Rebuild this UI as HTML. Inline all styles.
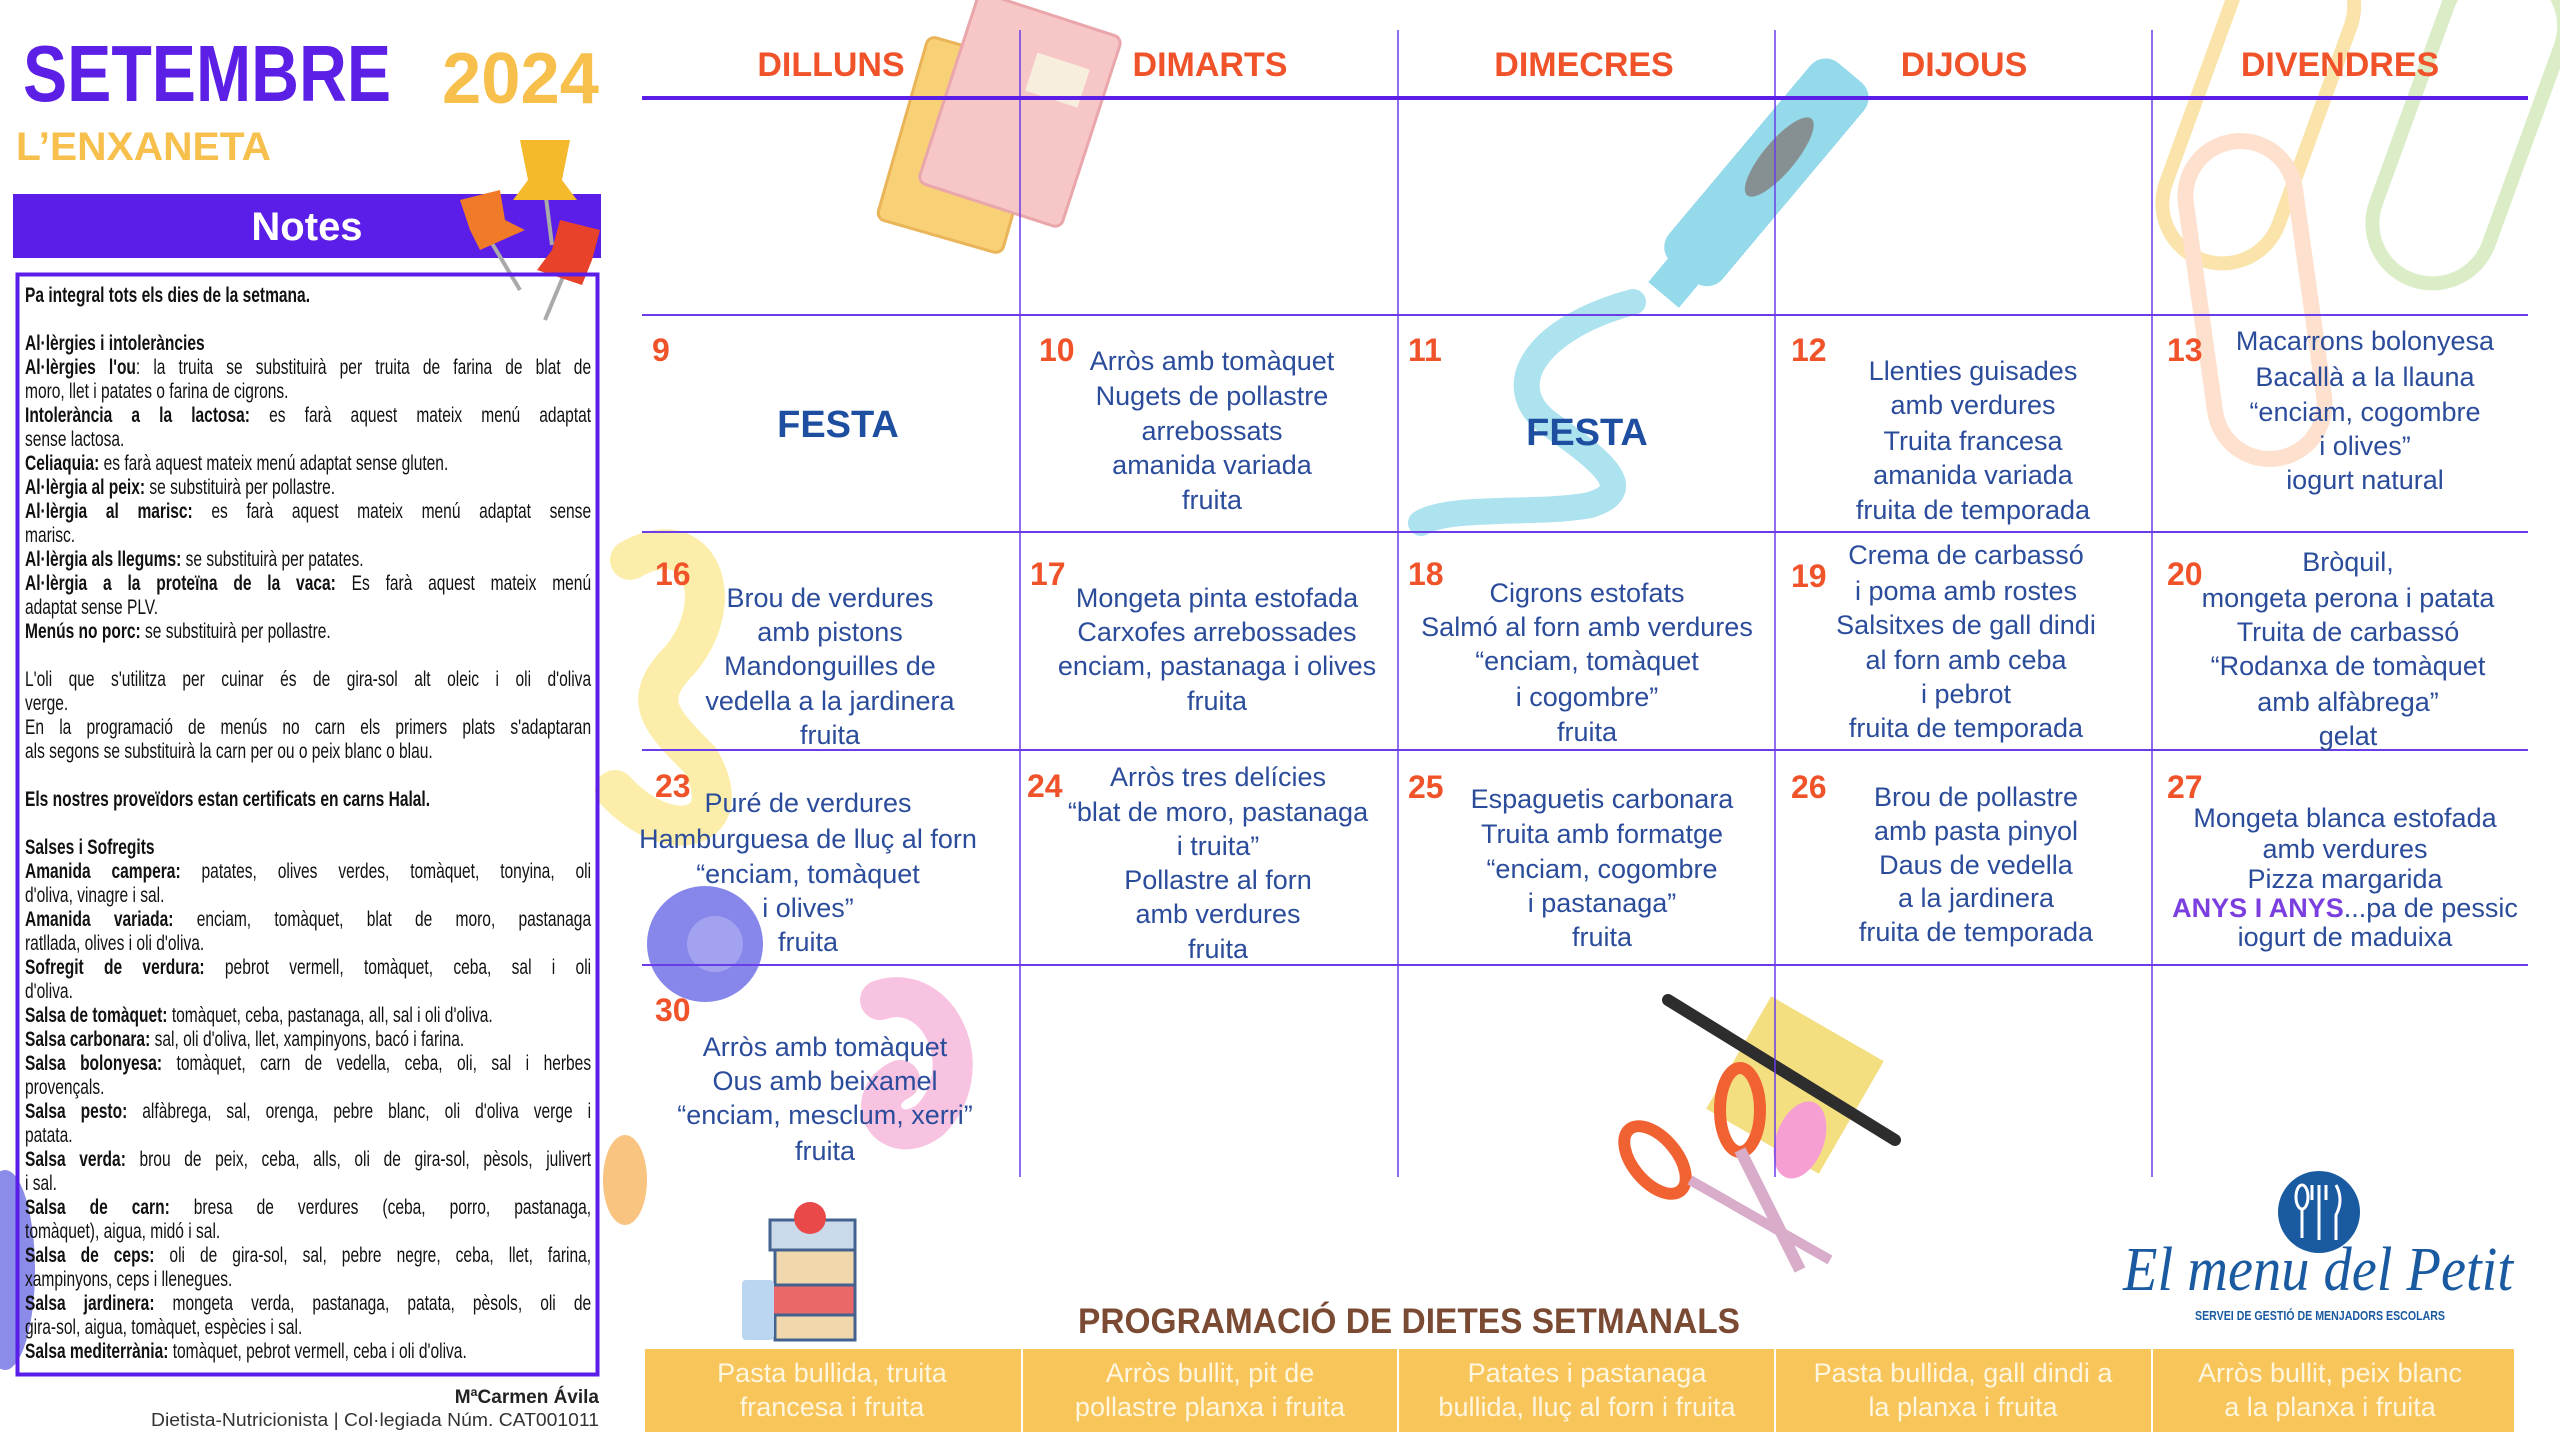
<!DOCTYPE html>
<html><head><meta charset="utf-8"><style>
html,body{margin:0;padding:0;background:#fff;}
body{width:2560px;height:1440px;position:relative;overflow:hidden;font-family:"Liberation Sans",sans-serif;}
svg{position:absolute;left:0;top:0;}
#notes{position:absolute;left:25px;top:284px;width:765px;transform:scaleX(0.74);transform-origin:0 0;font-size:21px;line-height:24px;color:#111;}
#notes div{white-space:nowrap;height:24px;}
#notes .j{text-align:justify;text-align-last:justify;}
</style></head><body>
<svg width="2560" height="1440" viewBox="0 0 2560 1440" font-family="Liberation Sans, sans-serif">
<g opacity="0.95">
 <rect x="2200" y="-60" width="120" height="330" rx="60" fill="none" stroke="#fbe3a8" stroke-width="14" transform="rotate(20 2260 100)"/>
 <rect x="2410" y="-40" width="120" height="330" rx="60" fill="none" stroke="#d9ecc5" stroke-width="14" transform="rotate(20 2470 120)"/>
 <rect x="2200" y="140" width="110" height="320" rx="55" fill="none" stroke="#fde0cc" stroke-width="16" transform="rotate(-8 2255 300)"/>
 <rect x="900" y="50" width="130" height="190" rx="8" fill="#f8cf70" stroke="#e9b050" stroke-width="3" transform="rotate(16 965 145)"/>
 <rect x="945" y="10" width="150" height="200" rx="8" fill="#f7c4c6" stroke="#e8a2a7" stroke-width="3" transform="rotate(18 1020 110)"/>
 <rect x="1030" y="60" width="55" height="40" fill="#f8eedc" transform="rotate(18 1057 80)"/>
 <path d="M1633 302 C1530 330 1500 390 1551 425 C1600 460 1640 490 1590 505 C1540 515 1450 505 1421 523" fill="none" stroke="#a9e1ef" stroke-width="26" stroke-linecap="round"/>
 <g transform="rotate(40 1760 180)">
  <rect x="1725" y="40" width="70" height="260" rx="20" fill="#8fd9ea"/>
  <ellipse cx="1760" cy="150" rx="16" ry="50" fill="#808a8c"/>
  <rect x="1740" y="290" width="40" height="40" fill="#8fd9ea"/>
 </g>
 <path d="M630 560 C700 520 730 600 680 660 C640 700 660 720 700 760 C740 830 670 850 615 790" fill="none" stroke="#fbe88f" stroke-width="40" stroke-linecap="round" opacity="0.8"/>
 <circle cx="705" cy="944" r="58" fill="#8080ea"/>
 <circle cx="715" cy="944" r="28" fill="#9d9df0"/>
 <path d="M880 1000 C940 980 980 1070 930 1120 C890 1150 860 1100 900 1080" fill="none" stroke="#f8bfe0" stroke-width="40" stroke-linecap="round"/>
 <ellipse cx="625" cy="1180" rx="22" ry="45" fill="#f9c07a"/>
 <ellipse cx="5" cy="1270" rx="30" ry="100" fill="#8585e8"/>
 <rect x="770" y="1220" width="85" height="30" fill="#c8d8ea" stroke="#3a5a8a" stroke-width="3"/>
 <rect x="775" y="1250" width="80" height="35" fill="#f1d6a8" stroke="#3a5a8a" stroke-width="3"/>
 <rect x="770" y="1285" width="85" height="30" fill="#e86060" stroke="#3a5a8a" stroke-width="3"/>
 <rect x="775" y="1315" width="80" height="25" fill="#f1d6a8" stroke="#3a5a8a" stroke-width="3"/>
 <rect x="742" y="1280" width="32" height="60" rx="4" fill="#b8d4f0"/>
 <circle cx="810" cy="1218" r="16" fill="#e84040"/>
 <rect x="1730" y="1020" width="130" height="130" fill="#f3dd7a" transform="rotate(30 1795 1085)"/>
 <line x1="1668" y1="1000" x2="1895" y2="1140" stroke="#222" stroke-width="12" stroke-linecap="round"/>
 <ellipse cx="1800" cy="1140" rx="24" ry="40" fill="#f59ad0" transform="rotate(20 1800 1140)"/>
 <ellipse cx="1655" cy="1160" rx="22" ry="40" fill="none" stroke="#f05a28" stroke-width="12" transform="rotate(-40 1655 1160)"/>
 <ellipse cx="1740" cy="1110" rx="20" ry="42" fill="none" stroke="#f05a28" stroke-width="12"/>
 <line x1="1740" y1="1150" x2="1800" y2="1270" stroke="#d7a8c8" stroke-width="12"/>
 <line x1="1690" y1="1180" x2="1830" y2="1260" stroke="#d7a8c8" stroke-width="10"/>
</g>

<text x="23" y="101" font-size="80" font-weight="bold" fill="#5b1fe6" textLength="368" lengthAdjust="spacingAndGlyphs">SETEMBRE</text>
<text x="442" y="103" font-size="72" font-weight="bold" fill="#f7c04c" textLength="157" lengthAdjust="spacingAndGlyphs">2024</text>
<text x="16" y="160" font-size="40" font-weight="bold" fill="#f7c04c" textLength="255" lengthAdjust="spacingAndGlyphs">L’ENXANETA</text>
<rect x="13" y="194" width="588" height="64" fill="#5a1ee8"/>
<text x="307" y="240" font-size="40" font-weight="bold" fill="#fff" text-anchor="middle">Notes</text>
<g>
 <line x1="540" y1="150" x2="552" y2="245" stroke="#aaa" stroke-width="4"/>
 <path d="M520 140 h50 l-8 40 l15 20 h-64 l15 -20z" fill="#f5b92c"/>
 <line x1="490" y1="240" x2="520" y2="290" stroke="#aaa" stroke-width="4"/>
 <path d="M460 200 l40 -10 l5 30 l20 10 l-45 20 l-10 -20z" fill="#f07a28"/>
 <line x1="570" y1="260" x2="545" y2="320" stroke="#aaa" stroke-width="4"/>
 <path d="M560 220 l40 10 l-8 30 l-10 25 l-45 -15 l15 -20z" fill="#e8432a"/>
</g>
<rect x="17.5" y="274.5" width="580" height="1100" fill="none" stroke="#5a1ee8" stroke-width="4"/>

<text x="599" y="1403" font-size="19" font-weight="bold" fill="#222" text-anchor="end">MªCarmen Ávila</text>
<text x="599" y="1426" font-size="18" fill="#333" text-anchor="end" textLength="448" lengthAdjust="spacingAndGlyphs">Dietista-Nutricionista | Col·legiada Núm. CAT001011</text>

<g stroke="#6a3de8" stroke-width="1.5">
 <line x1="1020" y1="30" x2="1020" y2="1177"/>
 <line x1="1398" y1="30" x2="1398" y2="1177"/>
 <line x1="1775" y1="30" x2="1775" y2="1177"/>
 <line x1="2152" y1="30" x2="2152" y2="1177"/>
 <line x1="642" y1="315" x2="2528" y2="315" stroke-width="2"/>
 <line x1="642" y1="532" x2="2528" y2="532" stroke-width="2"/>
 <line x1="642" y1="750" x2="2528" y2="750" stroke-width="2"/>
 <line x1="642" y1="965" x2="2528" y2="965" stroke-width="2"/>
</g>
<line x1="642" y1="98" x2="2528" y2="98" stroke="#5a1ee8" stroke-width="4"/>

<g font-size="34" font-weight="bold" fill="#f0522a" text-anchor="middle">
 <text x="831" y="76">DILLUNS</text>
 <text x="1210" y="76">DIMARTS</text>
 <text x="1584" y="76">DIMECRES</text>
 <text x="1964" y="76">DIJOUS</text>
 <text x="2340" y="76">DIVENDRES</text>
</g>

<g font-size="32" font-weight="bold" fill="#f0522a">
 <text x="652" y="361">9</text>
 <text x="1039" y="361">10</text>
 <text x="1408" y="361">11</text>
 <text x="1791" y="361">12</text>
 <text x="2167" y="361">13</text>
 <text x="655" y="585">16</text>
 <text x="1030" y="585">17</text>
 <text x="1408" y="585">18</text>
 <text x="1791" y="587">19</text>
 <text x="2167" y="585">20</text>
 <text x="655" y="797">23</text>
 <text x="1027" y="797">24</text>
 <text x="1408" y="798">25</text>
 <text x="1791" y="798">26</text>
 <text x="2167" y="798">27</text>
 <text x="655" y="1021">30</text>
</g>

<g font-size="38" font-weight="bold" fill="#1d4ea0" text-anchor="middle">
 <text x="838" y="437">FESTA</text>
 <text x="1587" y="445">FESTA</text>
</g>

<g font-size="27" fill="#2b4c9b" text-anchor="middle">
 <text x="1212" y="370">Arròs amb tomàquet</text>
 <text x="1212" y="405">Nugets de pollastre</text>
 <text x="1212" y="440">arrebossats</text>
 <text x="1212" y="474">amanida variada</text>
 <text x="1212" y="509">fruita</text>

 <text x="1973" y="380">Llenties guisades</text>
 <text x="1973" y="414">amb verdures</text>
 <text x="1973" y="450">Truita francesa</text>
 <text x="1973" y="484">amanida variada</text>
 <text x="1973" y="519">fruita de temporada</text>

 <text x="2365" y="350">Macarrons bolonyesa</text>
 <text x="2365" y="386">Bacallà a la llauna</text>
 <text x="2365" y="421">“enciam, cogombre</text>
 <text x="2365" y="455">i olives”</text>
 <text x="2365" y="489">iogurt natural</text>

 <text x="830" y="607">Brou de verdures</text>
 <text x="830" y="641">amb pistons</text>
 <text x="830" y="675">Mandonguilles de</text>
 <text x="830" y="710">vedella a la jardinera</text>
 <text x="830" y="744">fruita</text>

 <text x="1217" y="607">Mongeta pinta estofada</text>
 <text x="1217" y="641">Carxofes arrebossades</text>
 <text x="1217" y="675">enciam, pastanaga i olives</text>
 <text x="1217" y="710">fruita</text>

 <text x="1587" y="602">Cigrons estofats</text>
 <text x="1587" y="636">Salmó al forn amb verdures</text>
 <text x="1587" y="670">“enciam, tomàquet</text>
 <text x="1587" y="706">i cogombre”</text>
 <text x="1587" y="741">fruita</text>

 <text x="1966" y="564">Crema de carbassó</text>
 <text x="1966" y="600">i poma amb rostes</text>
 <text x="1966" y="634">Salsitxes de gall dindi</text>
 <text x="1966" y="669">al forn amb ceba</text>
 <text x="1966" y="703">i pebrot</text>
 <text x="1966" y="737">fruita de temporada</text>

 <text x="2348" y="571">Bròquil,</text>
 <text x="2348" y="607">mongeta perona i patata</text>
 <text x="2348" y="641">Truita de carbassó</text>
 <text x="2348" y="675">“Rodanxa de tomàquet</text>
 <text x="2348" y="711">amb alfàbrega”</text>
 <text x="2348" y="745">gelat</text>

 <text x="808" y="812">Puré de verdures</text>
 <text x="808" y="848">Hamburguesa de lluç al forn</text>
 <text x="808" y="883">“enciam, tomàquet</text>
 <text x="808" y="917">i olives”</text>
 <text x="808" y="951">fruita</text>

 <text x="1218" y="786">Arròs tres delícies</text>
 <text x="1218" y="821">“blat de moro, pastanaga</text>
 <text x="1218" y="855">i truita”</text>
 <text x="1218" y="889">Pollastre al forn</text>
 <text x="1218" y="923">amb verdures</text>
 <text x="1218" y="958">fruita</text>

 <text x="1602" y="808">Espaguetis carbonara</text>
 <text x="1602" y="843">Truita amb formatge</text>
 <text x="1602" y="878">“enciam, cogombre</text>
 <text x="1602" y="912">i pastanaga”</text>
 <text x="1602" y="946">fruita</text>

 <text x="1976" y="806">Brou de pollastre</text>
 <text x="1976" y="840">amb pasta pinyol</text>
 <text x="1976" y="874">Daus de vedella</text>
 <text x="1976" y="907">a la jardinera</text>
 <text x="1976" y="941">fruita de temporada</text>

 <text x="2345" y="827">Mongeta blanca estofada</text>
 <text x="2345" y="858">amb verdures</text>
 <text x="2345" y="888">Pizza margarida</text>
 <text x="2345" y="917"><tspan font-weight="bold" fill="#7b3fe0">ANYS I ANYS</tspan>...pa de pessic</text>
 <text x="2345" y="946">iogurt  de maduixa</text>

 <text x="825" y="1056">Arròs amb tomàquet</text>
 <text x="825" y="1090">Ous amb beixamel</text>
 <text x="825" y="1124">“enciam, mesclum, xerri”</text>
 <text x="825" y="1160">fruita</text>
</g>

<circle cx="2319" cy="1212" r="41" fill="#1a5aa0"/>
<g stroke="#fff" stroke-width="3" fill="none">
 <ellipse cx="2302" cy="1197" rx="6" ry="12"/><line x1="2302" y1="1209" x2="2302" y2="1238"/>
 <line x1="2319" y1="1185" x2="2319" y2="1240"/><line x1="2312" y1="1185" x2="2312" y2="1200"/><line x1="2326" y1="1185" x2="2326" y2="1200"/>
 <path d="M2336 1185 q8 15 0 30 v25"/>
</g>
<text x="2318" y="1290" font-size="62" font-style="italic" fill="#1a5aa0" text-anchor="middle" font-family="Liberation Serif, serif" textLength="390" lengthAdjust="spacingAndGlyphs">El menu del Petit</text>
<text x="2320" y="1320" font-size="13" font-weight="bold" fill="#1a5aa0" text-anchor="middle" textLength="250" lengthAdjust="spacingAndGlyphs">SERVEI DE GESTIÓ DE MENJADORS ESCOLARS</text>

<text x="1409" y="1333" font-size="35" font-weight="bold" fill="#7b4a33" text-anchor="middle" textLength="662" lengthAdjust="spacingAndGlyphs">PROGRAMACIÓ DE DIETES SETMANALS</text>
<rect x="645" y="1349" width="1869" height="83" fill="#f7c55a"/>
<g stroke="#fff" stroke-width="2">
 <line x1="1022" y1="1349" x2="1022" y2="1432"/><line x1="1398" y1="1349" x2="1398" y2="1432"/>
 <line x1="1775" y1="1349" x2="1775" y2="1432"/><line x1="2152" y1="1349" x2="2152" y2="1432"/>
</g>
<g font-size="27" fill="#fff6e0" text-anchor="middle">
 <text x="832" y="1382">Pasta bullida, truita</text>
 <text x="832" y="1416">francesa i fruita</text>
 <text x="1210" y="1382">Arròs bullit, pit de</text>
 <text x="1210" y="1416">pollastre planxa i fruita</text>
 <text x="1587" y="1382">Patates i pastanaga</text>
 <text x="1587" y="1416">bullida, lluç al forn i fruita</text>
 <text x="1963" y="1382">Pasta bullida, gall dindi a</text>
 <text x="1963" y="1416">la planxa i fruita</text>
 <text x="2330" y="1382">Arròs bullit, peix blanc</text>
 <text x="2330" y="1416">a la planxa i fruita</text>
</g>
</svg>

<div id="notes">
<div><b>Pa integral tots els dies de la setmana.</b></div>
<div></div>
<div><b>Al·lèrgies i intoleràncies</b></div>
<div class="j"><b>Al·lèrgies l'ou</b>: la truita se substituirà per truita de farina de blat de</div>
<div>moro, llet i patates o farina de cigrons.</div>
<div class="j"><b>Intolerància a la lactosa:</b> es farà aquest mateix menú adaptat</div>
<div>sense lactosa.</div>
<div><b>Celiaquia:</b> es farà aquest mateix menú adaptat sense gluten.</div>
<div><b>Al·lèrgia al peix:</b> se substituirà per pollastre.</div>
<div class="j"><b>Al·lèrgia al marisc:</b> es farà aquest mateix menú adaptat sense</div>
<div>marisc.</div>
<div><b>Al·lèrgia als llegums:</b> se substituirà per patates.</div>
<div class="j"><b>Al·lèrgia a la proteïna de la vaca:</b> Es farà aquest mateix menú</div>
<div>adaptat sense PLV.</div>
<div><b>Menús no porc:</b> se substituirà per pollastre.</div>
<div></div>
<div class="j">L'oli que s'utilitza per cuinar és de gira-sol alt oleic i oli d'oliva</div>
<div>verge.</div>
<div class="j">En la programació de menús no carn els primers plats s'adaptaran</div>
<div>als segons se substituirà la carn per ou o peix blanc o blau.</div>
<div></div>
<div><b>Els nostres proveïdors estan certificats en carns Halal.</b></div>
<div></div>
<div><b>Salses i Sofregits</b></div>
<div class="j"><b>Amanida campera:</b> patates, olives verdes, tomàquet, tonyina, oli</div>
<div>d'oliva, vinagre i sal.</div>
<div class="j"><b>Amanida variada:</b> enciam, tomàquet, blat de moro, pastanaga</div>
<div>ratllada, olives i oli d'oliva.</div>
<div class="j"><b>Sofregit de verdura:</b> pebrot vermell, tomàquet, ceba, sal i oli</div>
<div>d'oliva.</div>
<div><b>Salsa de tomàquet:</b> tomàquet, ceba, pastanaga, all, sal i oli d'oliva.</div>
<div><b>Salsa carbonara:</b> sal, oli d'oliva, llet, xampinyons, bacó i farina.</div>
<div class="j"><b>Salsa bolonyesa:</b> tomàquet, carn de vedella, ceba, oli, sal i herbes</div>
<div>provençals.</div>
<div class="j"><b>Salsa pesto:</b> alfàbrega, sal, orenga, pebre blanc, oli d'oliva verge i</div>
<div>patata.</div>
<div class="j"><b>Salsa verda:</b> brou de peix, ceba, alls, oli de gira-sol, pèsols, julivert</div>
<div>i sal.</div>
<div class="j"><b>Salsa de carn:</b> bresa de verdures (ceba, porro, pastanaga,</div>
<div>tomàquet), aigua, midó i sal.</div>
<div class="j"><b>Salsa de ceps:</b> oli de gira-sol, sal, pebre negre, ceba, llet, farina,</div>
<div>xampinyons, ceps i llenegues.</div>
<div class="j"><b>Salsa jardinera:</b> mongeta verda, pastanaga, patata, pèsols, oli de</div>
<div>gira-sol, aigua, tomàquet, espècies i sal.</div>
<div><b>Salsa mediterrània:</b> tomàquet, pebrot vermell, ceba i oli d'oliva.</div>
</div>
</body></html>
